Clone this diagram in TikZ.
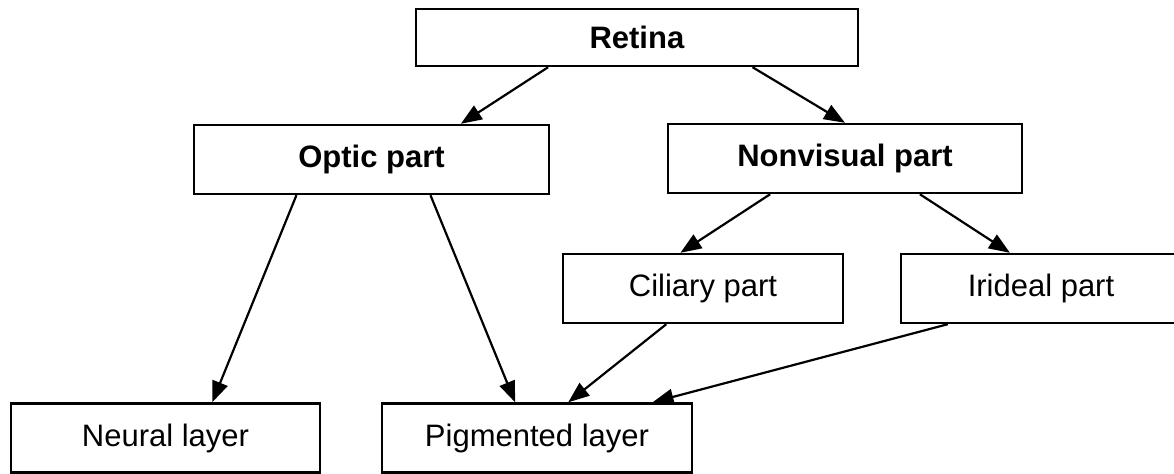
\documentclass[tikz,border=0pt]{standalone}
\usepackage{fontspec}
\setmainfont{Liberation Sans}
\usepackage{tikz}
\usetikzlibrary{arrows.meta, calc}

\begin{document}
\begin{tikzpicture}[x=0.5pt, y=-0.5pt,
    every node/.style={font=\fontsize{15.5}{18}\selectfont},
    box/.style={draw, line width=1.2pt, inner sep=0pt, minimum height=34.5pt},
    arr/.style={-{Triangle[length=10.5pt,width=8pt]}, line width=1.1pt}]
    % page
    \fill[white] (0,0) rectangle (1174,473);
    \useasboundingbox (0,0) rectangle (1174,473);
    % top level
    \node[box, minimum width=221pt, minimum height=28.5pt] (retina) at (637,37.5) {\textbf{Retina}};
    % second level
    \node[box, minimum width=177.5pt] (optic) at (371.5,159.5) {\textbf{Optic part}};
    \node[box, minimum width=177pt] (nonvisual) at (845,158.5) {\textbf{Nonvisual part}};
    % third level
    \node[box, minimum width=140pt] (ciliary) at (703,288.5) {Ciliary part};
    \node[box, minimum width=140pt] (irideal) at (1041,288.5) {Irideal part};
    % layers
    \node[box, minimum width=154.5pt] (neural) at (165.5,438) {Neural layer};
    \node[box, minimum width=155pt] (pigmented) at (537,438) {Pigmented layer};
    % arrows
    \draw[arr] ($(retina.south west)!0.30!(retina.south east)$) -- ($(optic.north west)!0.75!(optic.north east)$);
    \draw[arr] ($(retina.south west)!0.76!(retina.south east)$) -- (nonvisual.north);
    \draw[arr] ($(optic.south west)!0.29!(optic.south east)$) -- ($(neural.north west)!0.65!(neural.north east)$);
    \draw[arr] ($(optic.south west)!0.665!(optic.south east)$) -- ($(pigmented.north west)!0.43!(pigmented.north east)$);
    \draw[arr] ($(nonvisual.south west)!0.29!(nonvisual.south east)$) -- ($(ciliary.north west)!0.42!(ciliary.north east)$);
    \draw[arr] ($(nonvisual.south west)!0.71!(nonvisual.south east)$) -- ($(irideal.north west)!0.39!(irideal.north east)$);
    \draw[arr] ($(ciliary.south west)!0.37!(ciliary.south east)$) -- ($(pigmented.north west)!0.60!(pigmented.north east)$);
    \draw[arr] ($(irideal.south west)!0.17!(irideal.south east)$) -- ($(pigmented.north west)!0.87!(pigmented.north east)$);
\end{tikzpicture}
\end{document}
